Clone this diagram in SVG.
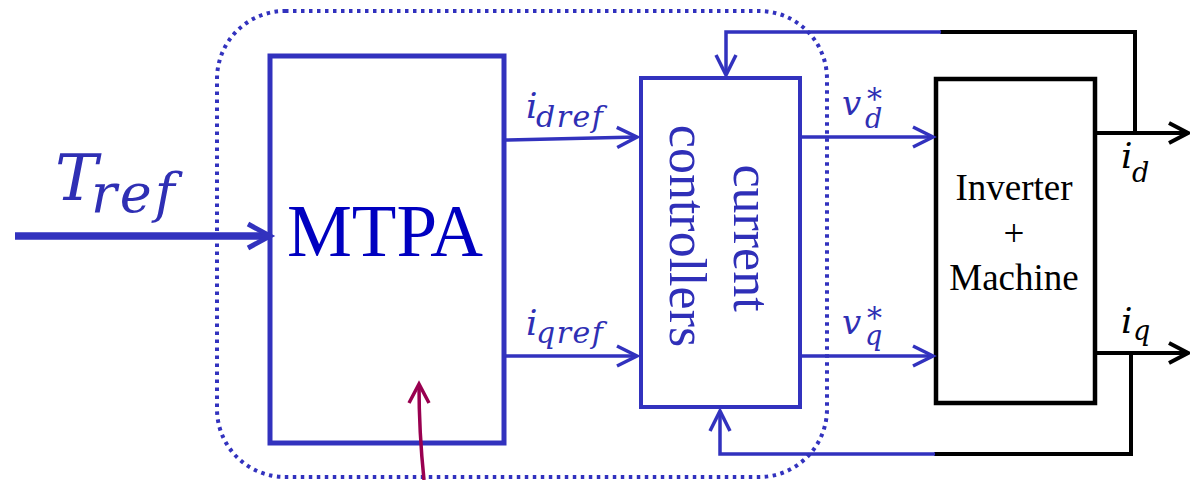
<svg xmlns="http://www.w3.org/2000/svg" width="1190" height="480" viewBox="0 0 1190 480">
<style>
.bl{fill:none;stroke:#3232BE;stroke-width:3.5}
.bk{fill:none;stroke:#000;stroke-width:4}
.box{fill:#fff;stroke:#3232BE}
.m{font-family:"DejaVu Serif","Liberation Serif",serif;font-style:italic;fill:#2F2FB4}
.k{fill:#000}
.t{font-family:"Liberation Serif","Times New Roman",serif}
</style>
<defs>
<marker id="ab" markerUnits="userSpaceOnUse" markerWidth="30" markerHeight="30" viewBox="-25 -15 30 30" refX="0" refY="0" orient="auto" overflow="visible"><path d="M-20,-10 L0,0 L-20,10" fill="none" stroke="#3232BE" stroke-width="3.5"/></marker>
<marker id="ak" markerUnits="userSpaceOnUse" markerWidth="30" markerHeight="30" viewBox="-25 -15 30 30" refX="0" refY="0" orient="auto" overflow="visible"><path d="M-19,-10 L0,0 L-19,10" fill="none" stroke="#000" stroke-width="4"/></marker>
<marker id="ap" markerUnits="userSpaceOnUse" markerWidth="30" markerHeight="30" viewBox="-25 -15 30 30" refX="0" refY="0" orient="auto" overflow="visible"><path d="M-19,-10 L0,0 L-19,10" fill="none" stroke="#990050" stroke-width="3.5"/></marker>
</defs>
<rect id="boundary" x="217" y="11" width="610" height="466" rx="68" ry="68" fill="none" stroke="#3232BE" stroke-width="4" stroke-dasharray="3.5 4.5"/>
<g id="mtpa">
<rect class="box" x="270" y="56" width="234" height="387" stroke-width="5"/>
<text class="t" x="385" y="256" font-size="73" text-anchor="middle" fill="#0000C0">MTPA</text>
</g>
<g id="controllers">
<rect class="box" x="641" y="78" width="159" height="329" stroke-width="4"/>
<text class="t" transform="translate(734,238) rotate(90)" font-size="52" text-anchor="middle" fill="#2F2FB8">current</text>
<text class="t" transform="translate(670,236) rotate(90)" font-size="52" text-anchor="middle" fill="#2F2FB8">controllers</text>
</g>
<g id="plant">
<rect x="936" y="79" width="159" height="324" fill="#fff" stroke="#000" stroke-width="4.5"/>
<text class="t" x="1014" y="200" font-size="37" text-anchor="middle">Inverter</text>
<text class="t" x="1014" y="246" font-size="37" text-anchor="middle">+</text>
<text class="t" x="1014" y="290" font-size="37" text-anchor="middle">Machine</text>
</g>
<g id="connectors">
<path d="M15,236 H265" fill="none" stroke="#3232BE" stroke-width="7.5"/>
<path d="M248,224 L270,236 L248,248" fill="none" stroke="#3232BE" stroke-width="5"/>
<path class="bl" d="M505,140 L637,137" marker-end="url(#ab)"/>
<path class="bl" d="M505,356 H637" marker-end="url(#ab)"/>
<path class="bl" d="M800,137 H933" marker-end="url(#ab)"/>
<path class="bl" d="M800,356 H933" marker-end="url(#ab)"/>
<path class="bk" d="M1135,133 V32 H940"/>
<path class="bl" d="M941,32 H726 V75" marker-end="url(#ab)"/>
<path class="bk" d="M1131,353 V454 H934"/>
<path class="bl" d="M935,454 H720 V411" marker-end="url(#ab)"/>
<path class="bk" d="M1095,133 H1188" marker-end="url(#ak)"/>
<path class="bk" d="M1095,353 H1188" marker-end="url(#ak)"/>
<path d="M424,480 Q419,432 419,384" fill="none" stroke="#990050" stroke-width="3.5" marker-end="url(#ap)"/>
</g>
<g id="labels">
<text class="m" x="55" y="200" font-size="64">T<tspan x="91" y="212" font-size="54" letter-spacing="3">ref</tspan></text>
<text class="m" x="526" y="118" font-size="36">i<tspan x="536" y="127" font-size="30" letter-spacing="1.5">dref</tspan></text>
<text class="m" x="526" y="335" font-size="36">i<tspan x="536" y="343" font-size="30" letter-spacing="1.5">qref</tspan></text>
<text class="m" x="842" y="115" font-size="34">v<tspan x="865" y="128" font-size="27">d</tspan><tspan x="867" y="109" font-size="30">*</tspan></text>
<text class="m" x="842" y="334" font-size="34">v<tspan x="865" y="345" font-size="27">q</tspan><tspan x="867" y="328" font-size="30">*</tspan></text>
<text class="m k" x="1121" y="168" font-size="36">i<tspan x="1132" y="182" font-size="27">d</tspan></text>
<text class="m k" x="1121" y="333" font-size="36">i<tspan x="1133" y="340" font-size="27">q</tspan></text>
</g>
</svg>
